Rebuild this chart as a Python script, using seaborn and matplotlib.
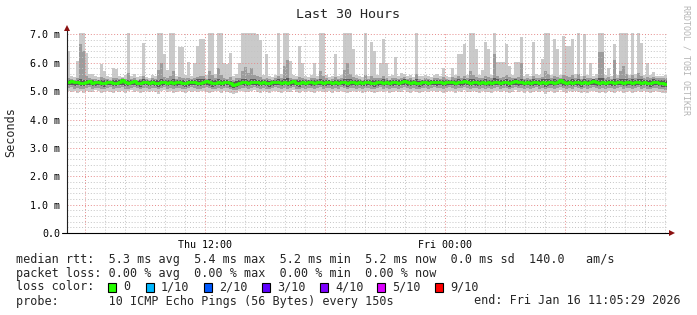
import numpy as np
import pandas as pd
import matplotlib
matplotlib.use("Agg")
import matplotlib.pyplot as plt
import matplotlib.dates as mdates
from matplotlib.ticker import MultipleLocator, FuncFormatter
from matplotlib.patches import Rectangle
import seaborn as sns

# ---------------- data (ms), one value per 9-minute column ----------------
start_time = "2026-01-15 05:05:29"
step = "9min"

rtt_median = [
    5.34, 5.36, 5.31, 5.33, 5.30, 5.28, 5.32, 5.35, 5.29, 5.31, 5.33, 5.30, 5.27, 5.31, 5.34, 5.29, 5.30, 5.32, 5.38, 5.31,
    5.29, 5.33, 5.35, 5.30, 5.28, 5.31, 5.33, 5.29, 5.32, 5.30, 5.27, 5.31, 5.34, 5.30, 5.32, 5.29, 5.31, 5.33, 5.30, 5.28,
    5.31, 5.34, 5.32, 5.29, 5.30, 5.33, 5.35, 5.31, 5.28, 5.30, 5.32, 5.29, 5.31, 5.34, 5.27, 5.23, 5.26, 5.30, 5.33, 5.31,
    5.30, 5.32, 5.34, 5.31, 5.29, 5.33, 5.30, 5.28, 5.31, 5.34, 5.32, 5.30, 5.33, 5.29, 5.31, 5.35, 5.30, 5.28, 5.32, 5.30,
    5.33, 5.31, 5.29, 5.32, 5.34, 5.30, 5.31, 5.33, 5.29, 5.32, 5.30, 5.34, 5.31, 5.28, 5.31, 5.33, 5.30, 5.32, 5.29, 5.31,
    5.33, 5.30, 5.28, 5.31, 5.34, 5.30, 5.32, 5.29, 5.31, 5.33, 5.30, 5.32, 5.37, 5.31, 5.29, 5.32, 5.30, 5.28, 5.31, 5.33,
    5.30, 5.32, 5.34, 5.31, 5.33, 5.29, 5.31, 5.34, 5.32, 5.30, 5.33, 5.31, 5.35, 5.32, 5.30, 5.33, 5.31, 5.29, 5.32, 5.30,
    5.31, 5.29, 5.32, 5.34, 5.30, 5.33, 5.31, 5.28, 5.32, 5.35, 5.31, 5.33, 5.30, 5.32, 5.29, 5.31, 5.34, 5.30, 5.32, 5.28,
    5.31, 5.33, 5.30, 5.32, 5.38, 5.31, 5.29, 5.33, 5.30, 5.34, 5.31, 5.28, 5.32, 5.30, 5.33, 5.35, 5.31, 5.29, 5.32, 5.30,
    5.33, 5.31, 5.29, 5.32, 5.34, 5.30, 5.31, 5.33, 5.29, 5.31, 5.34, 5.30, 5.32, 5.30, 5.28, 5.31, 5.33, 5.30, 5.28, 5.26,
]

ping_max = [
    6.42, 5.55, 5.50, 6.07, 7.10, 7.10, 6.36, 5.62, 5.60, 5.52, 5.49, 5.96, 5.70, 5.53, 5.50, 5.80, 5.78, 5.54, 5.51, 5.56,
    7.10, 5.52, 5.62, 5.49, 5.55, 6.68, 5.51, 5.48, 5.57, 5.53, 7.10, 7.10, 6.30, 5.73, 7.10, 7.10, 5.55, 6.55, 6.55, 5.58,
    6.03, 5.52, 6.00, 6.60, 6.84, 6.84, 5.56, 7.10, 7.10, 5.60, 7.10, 7.10, 6.00, 5.95, 6.36, 5.54, 5.62, 6.00, 7.10, 7.10,
    7.10, 7.10, 7.10, 7.00, 6.80, 5.58, 6.30, 5.55, 5.50, 5.57, 7.10, 5.60, 7.10, 7.10, 6.05, 5.56, 5.52, 6.60, 6.00, 5.54,
    5.50, 5.57, 6.00, 5.53, 7.10, 7.10, 5.58, 5.51, 5.55, 6.30, 5.52, 5.56, 7.10, 7.10, 7.10, 6.50, 5.58, 5.53, 5.50, 7.10,
    5.55, 6.73, 6.40, 5.56, 6.00, 6.85, 6.00, 5.52, 5.58, 6.20, 5.54, 5.65, 5.60, 5.53, 5.57, 5.50, 7.10, 5.55, 5.52, 5.58,
    5.54, 5.51, 5.56, 5.60, 5.53, 5.80, 5.55, 5.50, 5.80, 5.57, 6.30, 6.30, 6.65, 5.58, 7.10, 7.10, 6.50, 5.56, 5.73, 6.73,
    6.49, 5.57, 7.10, 6.02, 6.02, 6.02, 6.67, 5.90, 5.58, 6.02, 6.02, 6.90, 5.55, 5.60, 5.52, 6.73, 5.60, 5.56, 6.14, 7.10,
    7.10, 5.58, 6.84, 6.49, 5.57, 6.96, 6.60, 6.60, 6.84, 5.60, 7.10, 5.55, 7.00, 5.58, 6.00, 5.54, 5.60, 7.10, 7.10, 5.56,
    5.80, 5.55, 6.67, 5.58, 7.10, 7.10, 7.10, 5.57, 7.10, 5.60, 7.10, 6.70, 5.56, 6.00, 5.58, 5.68, 5.55, 5.55, 5.52, 5.58,
]

ping_p9 = [
    5.46, 5.43, 5.41, 5.48, 6.67, 6.40, 5.52, 5.45, 5.44, 5.42, 5.40, 5.50, 5.47, 5.43, 5.41, 5.48, 5.46, 5.42, 5.45, 5.44,
    5.65, 5.42, 5.46, 5.40, 5.44, 5.55, 5.42, 5.41, 5.45, 5.43, 5.75, 6.00, 5.50, 5.47, 5.52, 5.70, 5.44, 5.51, 5.48, 5.45,
    5.47, 5.42, 5.46, 5.50, 5.55, 5.52, 5.44, 5.70, 5.58, 5.45, 5.80, 5.56, 5.47, 5.43, 5.49, 5.41, 5.46, 5.45, 5.70, 5.85,
    5.65, 5.80, 5.58, 5.52, 5.50, 5.44, 5.48, 5.43, 5.41, 5.45, 5.55, 5.46, 5.90, 6.10, 5.48, 5.44, 5.42, 5.50, 5.46, 5.43,
    5.41, 5.45, 5.47, 5.42, 5.70, 5.55, 5.46, 5.41, 5.44, 5.49, 5.42, 5.45, 5.75, 6.00, 5.60, 5.50, 5.46, 5.43, 5.40, 5.58,
    5.44, 5.52, 5.48, 5.45, 5.47, 5.55, 5.46, 5.41, 5.46, 5.48, 5.43, 5.47, 5.49, 5.42, 5.45, 5.40, 5.60, 5.44, 5.41, 5.46,
    5.43, 5.41, 5.45, 5.48, 5.42, 5.50, 5.44, 5.40, 5.49, 5.45, 5.52, 5.48, 5.55, 5.46, 5.70, 5.58, 5.50, 5.45, 5.47, 5.53,
    5.50, 5.45, 6.30, 5.52, 5.48, 5.50, 5.56, 5.49, 5.46, 5.47, 5.50, 6.00, 5.44, 5.47, 5.42, 5.54, 5.46, 5.45, 5.50, 5.70,
    5.62, 5.46, 5.55, 5.50, 5.45, 5.58, 5.52, 5.50, 5.56, 5.47, 5.60, 5.44, 5.55, 5.46, 5.48, 5.43, 5.47, 6.37, 6.37, 5.45,
    5.50, 5.44, 6.10, 5.47, 5.70, 5.90, 5.62, 5.46, 5.58, 5.48, 5.65, 5.52, 5.45, 5.49, 5.47, 5.50, 5.46, 5.48, 5.45, 5.47,
]

ping_p8 = [
    5.39, 5.40, 5.37, 5.41, 5.42, 5.39, 5.40, 5.41, 5.38, 5.37, 5.39, 5.41, 5.40, 5.38, 5.37, 5.40, 5.41, 5.38, 5.42, 5.39,
    5.40, 5.38, 5.41, 5.37, 5.39, 5.42, 5.38, 5.37, 5.40, 5.38, 5.41, 5.43, 5.40, 5.39, 5.41, 5.42, 5.38, 5.41, 5.39, 5.37,
    5.40, 5.39, 5.41, 5.42, 5.43, 5.42, 5.40, 5.44, 5.41, 5.38, 5.42, 5.40, 5.39, 5.41, 5.37, 5.34, 5.36, 5.39, 5.42, 5.43,
    5.41, 5.43, 5.42, 5.40, 5.39, 5.40, 5.41, 5.37, 5.38, 5.40, 5.42, 5.39, 5.44, 5.45, 5.40, 5.41, 5.38, 5.41, 5.39, 5.38,
    5.39, 5.40, 5.41, 5.38, 5.42, 5.41, 5.39, 5.38, 5.37, 5.41, 5.39, 5.41, 5.43, 5.44, 5.42, 5.40, 5.39, 5.41, 5.37, 5.40,
    5.40, 5.41, 5.39, 5.38, 5.41, 5.42, 5.40, 5.38, 5.39, 5.41, 5.38, 5.40, 5.42, 5.39, 5.38, 5.40, 5.43, 5.37, 5.39, 5.41,
    5.39, 5.38, 5.41, 5.40, 5.39, 5.40, 5.38, 5.40, 5.41, 5.39, 5.42, 5.40, 5.44, 5.41, 5.43, 5.42, 5.40, 5.38, 5.41, 5.42,
    5.41, 5.39, 5.45, 5.42, 5.40, 5.41, 5.42, 5.38, 5.40, 5.43, 5.41, 5.44, 5.39, 5.41, 5.38, 5.42, 5.41, 5.39, 5.42, 5.43,
    5.42, 5.41, 5.43, 5.41, 5.44, 5.42, 5.39, 5.41, 5.42, 5.41, 5.43, 5.38, 5.42, 5.39, 5.41, 5.42, 5.40, 5.46, 5.45, 5.40,
    5.41, 5.39, 5.44, 5.40, 5.43, 5.44, 5.42, 5.40, 5.42, 5.39, 5.43, 5.42, 5.40, 5.41, 5.39, 5.42, 5.40, 5.41, 5.39, 5.38,
]

ping_p3 = [
    5.21, 5.23, 5.19, 5.20, 5.18, 5.17, 5.20, 5.22, 5.18, 5.19, 5.21, 5.18, 5.16, 5.20, 5.22, 5.17, 5.19, 5.20, 5.23, 5.19,
    5.18, 5.21, 5.22, 5.19, 5.16, 5.20, 5.21, 5.17, 5.20, 5.19, 5.15, 5.19, 5.22, 5.18, 5.20, 5.17, 5.19, 5.21, 5.18, 5.16,
    5.19, 5.22, 5.20, 5.17, 5.18, 5.21, 5.23, 5.19, 5.16, 5.18, 5.20, 5.17, 5.19, 5.21, 5.15, 5.12, 5.14, 5.18, 5.21, 5.19,
    5.18, 5.20, 5.22, 5.19, 5.17, 5.21, 5.18, 5.16, 5.19, 5.22, 5.20, 5.18, 5.21, 5.17, 5.19, 5.23, 5.18, 5.16, 5.20, 5.18,
    5.21, 5.19, 5.17, 5.20, 5.22, 5.18, 5.19, 5.21, 5.17, 5.20, 5.18, 5.22, 5.19, 5.16, 5.19, 5.21, 5.18, 5.20, 5.17, 5.19,
    5.21, 5.18, 5.16, 5.19, 5.22, 5.18, 5.20, 5.17, 5.19, 5.21, 5.18, 5.20, 5.23, 5.19, 5.17, 5.20, 5.18, 5.16, 5.19, 5.21,
    5.18, 5.20, 5.22, 5.19, 5.21, 5.17, 5.19, 5.22, 5.20, 5.18, 5.21, 5.19, 5.23, 5.20, 5.18, 5.21, 5.19, 5.17, 5.20, 5.18,
    5.19, 5.17, 5.20, 5.22, 5.18, 5.21, 5.19, 5.16, 5.20, 5.23, 5.19, 5.21, 5.18, 5.20, 5.17, 5.19, 5.22, 5.18, 5.20, 5.16,
    5.19, 5.21, 5.18, 5.20, 5.24, 5.19, 5.17, 5.21, 5.18, 5.22, 5.19, 5.16, 5.20, 5.18, 5.21, 5.23, 5.19, 5.17, 5.20, 5.18,
    5.21, 5.19, 5.17, 5.20, 5.22, 5.18, 5.19, 5.21, 5.17, 5.19, 5.22, 5.18, 5.20, 5.18, 5.16, 5.19, 5.21, 5.18, 5.16, 5.14,
]

ping_p2 = [
    5.12, 5.14, 5.09, 5.11, 5.08, 5.07, 5.10, 5.13, 5.09, 5.10, 5.12, 5.08, 5.06, 5.11, 5.13, 5.08, 5.10, 5.11, 5.14, 5.09,
    5.09, 5.12, 5.13, 5.10, 5.07, 5.11, 5.12, 5.08, 5.11, 5.10, 5.06, 5.10, 5.13, 5.09, 5.11, 5.08, 5.10, 5.12, 5.09, 5.07,
    5.10, 5.13, 5.11, 5.08, 5.09, 5.12, 5.14, 5.10, 5.07, 5.09, 5.11, 5.08, 5.10, 5.12, 5.06, 5.03, 5.05, 5.09, 5.12, 5.10,
    5.09, 5.11, 5.13, 5.10, 5.08, 5.12, 5.09, 5.07, 5.10, 5.13, 5.11, 5.09, 5.12, 5.08, 5.10, 5.14, 5.09, 5.07, 5.11, 5.09,
    5.12, 5.10, 5.08, 5.11, 5.13, 5.09, 5.10, 5.12, 5.08, 5.11, 5.09, 5.13, 5.10, 5.07, 5.10, 5.12, 5.09, 5.11, 5.08, 5.10,
    5.12, 5.09, 5.07, 5.10, 5.13, 5.09, 5.11, 5.08, 5.10, 5.12, 5.09, 5.11, 5.14, 5.10, 5.08, 5.11, 5.09, 5.07, 5.10, 5.12,
    5.09, 5.11, 5.13, 5.10, 5.12, 5.08, 5.10, 5.13, 5.11, 5.09, 5.12, 5.10, 5.14, 5.11, 5.09, 5.12, 5.10, 5.08, 5.11, 5.09,
    5.10, 5.08, 5.11, 5.13, 5.09, 5.12, 5.10, 5.07, 5.11, 5.14, 5.10, 5.12, 5.09, 5.11, 5.08, 5.10, 5.13, 5.09, 5.11, 5.07,
    5.10, 5.12, 5.09, 5.11, 5.15, 5.10, 5.08, 5.12, 5.09, 5.13, 5.10, 5.07, 5.11, 5.09, 5.12, 5.14, 5.10, 5.08, 5.11, 5.09,
    5.12, 5.10, 5.08, 5.11, 5.13, 5.09, 5.10, 5.12, 5.08, 5.10, 5.13, 5.09, 5.11, 5.09, 5.07, 5.10, 5.12, 5.09, 5.07, 5.05,
]

ping_min = [
    5.00, 4.97, 5.02, 4.95, 4.99, 4.93, 5.01, 4.98, 4.96, 5.03, 4.99, 4.94, 4.97, 5.01, 4.96, 4.92, 5.00, 4.98, 5.02, 4.95,
    4.99, 5.03, 4.97, 5.00, 4.94, 4.98, 5.02, 4.96, 5.00, 4.97, 4.91, 4.99, 5.03, 4.96, 5.00, 4.95, 4.98, 5.01, 4.97, 4.93,
    5.00, 4.98, 5.02, 4.96, 4.99, 5.01, 4.97, 4.94, 4.98, 5.02, 4.99, 4.95, 5.00, 4.97, 4.92, 4.90, 4.94, 4.99, 5.02, 4.98,
    4.96, 5.00, 5.03, 4.97, 4.95, 5.01, 4.98, 4.94, 4.99, 5.02, 4.97, 4.95, 5.00, 4.96, 4.98, 5.03, 4.97, 4.93, 5.00, 4.98,
    5.01, 4.97, 4.95, 4.99, 5.02, 4.96, 4.98, 5.01, 4.95, 4.99, 4.97, 5.02, 4.98, 4.94, 4.97, 5.00, 4.96, 4.99, 4.95, 4.98,
    5.01, 4.97, 4.94, 4.98, 5.02, 4.96, 4.99, 4.95, 4.97, 5.01, 4.96, 4.98, 5.03, 4.97, 4.95, 4.99, 4.96, 4.93, 4.98, 5.00,
    4.97, 4.99, 5.02, 4.96, 5.00, 4.94, 4.98, 5.01, 4.99, 4.95, 5.00, 4.97, 5.03, 4.98, 4.96, 5.00, 4.97, 4.93, 4.99, 4.96,
    4.98, 4.94, 4.99, 5.02, 4.96, 5.00, 4.97, 4.92, 4.98, 5.03, 4.97, 5.00, 4.95, 4.99, 4.93, 4.97, 5.01, 4.96, 4.99, 4.91,
    4.96, 5.00, 4.95, 4.98, 5.03, 4.97, 4.94, 5.00, 4.96, 5.01, 4.97, 4.92, 4.98, 4.95, 5.00, 5.02, 4.97, 4.93, 4.98, 4.95,
    5.00, 4.97, 4.94, 4.99, 5.01, 4.95, 4.97, 5.00, 4.94, 4.97, 5.01, 4.96, 4.99, 4.96, 4.93, 4.97, 5.00, 4.96, 4.94, 4.92,
]

loss_labels = ["0", "1/10", "2/10", "3/10", "4/10", "5/10", "9/10"]
loss_colors = ["#26ff00", "#00b8ff", "#0059ff", "#5e00ff", "#7e00ff", "#dd00ff", "#ff0000"]

title = "Last 30 Hours"
y_label = "Seconds"
rtt_line = "median rtt:  5.3 ms avg  5.4 ms max  5.2 ms min  5.2 ms now  0.0 ms sd  140.0   am/s"
loss_line = "packet loss: 0.00 % avg  0.00 % max  0.00 % min  0.00 % now"
probe_line = "probe:       10 ICMP Echo Pings (56 Bytes) every 150s"
end_line = "end: Fri Jan 16 11:05:29 2026"
tag_line = "RRDTOOL / TOBI OETIKER"

# ---------------- drawing ----------------
sns.set_style("white")
plt.rcParams["font.family"] = ["DejaVu Sans Mono"]

W, H = 697, 315
fig = plt.figure(figsize=(W / 100, H / 100), dpi=100)
fig.patch.set_facecolor("white")
ax = fig.add_axes([67 / W, 82 / H, 600 / W, 200 / H])

times = pd.date_range(start_time, periods=len(rtt_median) + 1, freq=step)


def ext(a):
    a = np.asarray(a, dtype=float)
    return np.append(a, a[-1])


smoke = [
    (ping_min, ping_max, "#cacaca"),
    (ping_p2, ping_p9, "#9c9c9c"),
    (ping_p3, ping_p8, "#5a5a5a"),
]
for lo, hi, col in smoke:
    ax.fill_between(times, ext(lo), ext(hi), step="post", color=col,
                    linewidth=0, zorder=1)

sns.lineplot(x=times, y=ext(rtt_median), ax=ax, color="#26ff00",
             linewidth=2.0, drawstyle="steps-post", estimator=None,
             sort=False, zorder=3)

ax.set_xlim(times[0], times[-1])
ax.set_ylim(0, 7.05)
ax.set_xlabel("")
ax.set_ylabel("")

ax.xaxis.set_major_locator(mdates.HourLocator(byhour=[0, 6, 12, 18]))
ax.xaxis.set_minor_locator(mdates.HourLocator())


def xfmt(v, pos):
    d = mdates.num2date(v)
    return d.strftime("%a %H:%M") if d.hour in (0, 12) else ""


ax.xaxis.set_major_formatter(FuncFormatter(xfmt))
ax.yaxis.set_major_locator(MultipleLocator(1.0))
ax.yaxis.set_minor_locator(MultipleLocator(0.2))
ax.yaxis.set_major_formatter(FuncFormatter(lambda v, p: "0.0" if abs(v) < 1e-9 else f"{v:.1f} m"))

ax.set_axisbelow(False)
ax.grid(which="minor", color="#c4c4c4", linestyle=(0, (1, 2)), linewidth=0.7)
ax.grid(which="major", color="#e68a8a", linestyle=(0, (1, 2)), linewidth=0.7)

ax.tick_params(axis="both", which="major", length=3, width=0.7, color="#e07070",
               labelsize=7.2, pad=2, labelcolor="black")
ax.tick_params(axis="both", which="minor", length=2, width=0.7, color="#b8b8b8")

for s in ax.spines.values():
    s.set_visible(False)

# axis lines with arrows
ax.plot([0, 0], [0, 1 + 5 / 200], transform=ax.transAxes, color="#202020",
        lw=0.8, clip_on=False, zorder=5)
ax.plot([-5 / 600, 1 + 4 / 600], [0, 0], transform=ax.transAxes, color="black",
        lw=0.8, clip_on=False, zorder=5)
ax.plot([0], [1 + 5 / 200], marker="^", markersize=4.5, color="#8b1010",
        transform=ax.transAxes, clip_on=False, zorder=6, markeredgewidth=0)
ax.plot([1 + 5 / 600], [0], marker=">", markersize=4.5, color="#8b1010",
        transform=ax.transAxes, clip_on=False, zorder=6, markeredgewidth=0)


def ftext(x, y, s, **kw):
    fig.text(x / W, 1 - y / H, s, **kw)


ftext(348, 14, title, ha="center", va="center", fontsize=9.6)
ftext(11, 132, y_label, ha="center", va="center", rotation=90, fontsize=8.5)
ftext(686, 5, tag_line, ha="center", va="top", rotation=270, fontsize=6,
      color="#b4b4b4")

ftext(16, 259, rtt_line, ha="left", va="center", fontsize=8.5)
ftext(16, 273, loss_line, ha="left", va="center", fontsize=8.5)
ftext(16, 287, "loss color:", ha="left", va="center", fontsize=8.5)
ftext(16, 301, probe_line, ha="left", va="center", fontsize=8.5)
ftext(681, 301, end_line, ha="right", va="center", fontsize=8.5)

sq_x = [108, 146, 204, 262, 320, 377, 435]
for x0, lab, col in zip(sq_x, loss_labels, loss_colors):
    fig.patches.append(Rectangle((x0 / W, 1 - 291.5 / H), 8 / W, 9 / H,
                                 transform=fig.transFigure, facecolor=col,
                                 edgecolor="black", linewidth=0.8))
    ftext(x0 + 15, 287, lab, ha="left", va="center", fontsize=8.5)

fig.savefig("out.png", dpi=100, facecolor="white")
